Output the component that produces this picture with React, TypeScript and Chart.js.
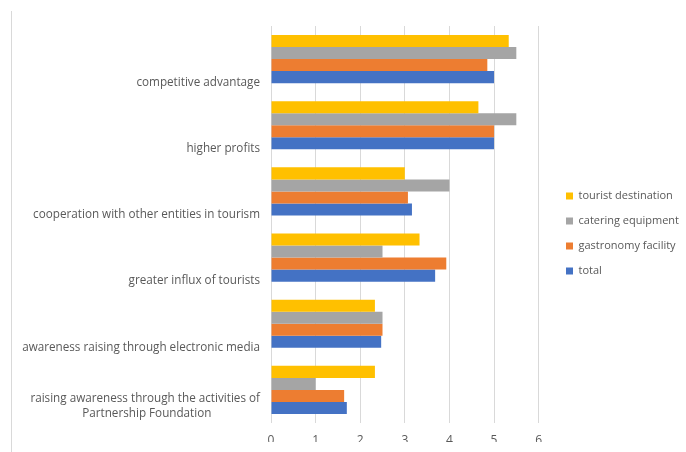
import React, { useEffect, useRef } from "react";
import { Chart, registerables } from "chart.js";

Chart.register(...registerables);

const categories: (string | string[])[] = [
  ["", "competitive advantage"],
  ["", "higher profits"],
  ["", "cooperation with other entities in tourism"],
  ["", "greater influx of tourists"],
  ["", "awareness raising through electronic media"],
  ["raising awareness through the activities of", "Partnership Foundation                "],
];

const seriesNames = ["tourist destination", "catering equipment", "gastronomy facility", "total"];
const touristDestination = [5.33, 4.65, 3.0, 3.33, 2.33, 2.33];
const cateringEquipment = [5.5, 5.5, 4.0, 2.5, 2.5, 1.0];
const gastronomyFacility = [4.85, 5.0, 3.07, 3.93, 2.5, 1.64];
const total = [5.0, 5.0, 3.16, 3.68, 2.47, 1.7];
const seriesColors = ["#FFC000", "#A5A5A5", "#ED7D31", "#4472C4"];
const xTicks = [0, 1, 2, 3, 4, 5, 6];

export default function App() {
  const ref = useRef<HTMLCanvasElement>(null);
  useEffect(() => {
    if (!ref.current) return;
    const values = [touristDestination, cateringEquipment, gastronomyFacility, total];
    const chart = new Chart(ref.current, {
      type: "bar",
      data: {
        labels: categories,
        datasets: seriesNames.map((name, i) => ({
          label: name,
          data: values[i],
          backgroundColor: seriesColors[i],
          borderWidth: 0,
          categoryPercentage: 0.727,
          barPercentage: 1,
        })),
      },
      options: {
        indexAxis: "y",
        animation: false,
        responsive: false,
        maintainAspectRatio: false,
        layout: { padding: { top: 25, left: 0, right: 0, bottom: 10 } },
        plugins: {
          tooltip: { enabled: false },
          legend: {
            position: "right",
            maxWidth: 134,
            labels: {
              boxWidth: 7,
              boxHeight: 7,
              padding: 14,
              color: "#595959",
              font: { family: "'Open Sans'", size: 11 },
            },
          },
        },
        scales: {
          x: {
            min: 0,
            max: 6.3,
            afterBuildTicks: (scale: any) => {
              scale.ticks = xTicks.map((v) => ({ value: v }));
            },
            afterFit: (scale: any) => {
              scale.height = 19;
            },
            ticks: {
              stepSize: 1,
              includeBounds: false,
              padding: 10,
              color: "#595959",
              font: { family: "'Open Sans'", size: 12 },
            },
            grid: { color: "#d9d9d9", lineWidth: 1, drawTicks: false },
            border: { display: false },
          },
          y: {
            afterFit: (scale: any) => {
              scale.width = 271;
            },
            ticks: {
              padding: 11,
              labelOffset: 16,
              color: "#595959",
              font: { family: "'Open Sans'", size: 11.7, lineHeight: "15px" },
            },
            grid: { display: false, drawTicks: false },
            border: { display: false },
          },
        },
      },
    });
    return () => chart.destroy();
  }, []);

  return (
    <div style={{ position: "fixed", left: 0, top: 0, width: 686, height: 452, background: "#fff" }}>
      <div
        style={{
          position: "absolute",
          left: 11,
          top: 11,
          width: 0,
          height: 441,
          borderLeft: "1px solid #d9d9d9",
        }}
      />
      <canvas ref={ref} width={686} height={452} style={{ position: "absolute", left: 0, top: 0 }} />
    </div>
  );
}
